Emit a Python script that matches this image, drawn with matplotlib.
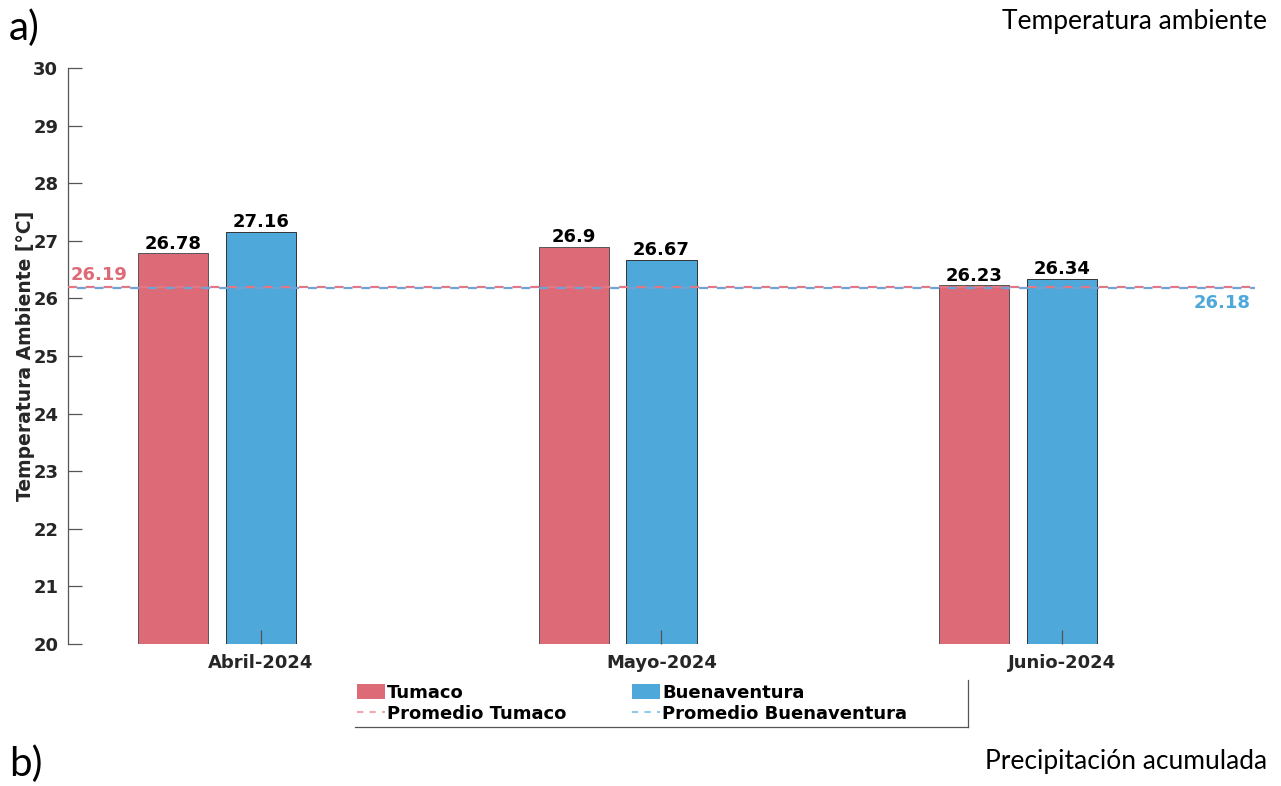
import matplotlib
matplotlib.use("Agg")
import matplotlib.pyplot as plt
from matplotlib.patches import Patch
from matplotlib.lines import Line2D
import numpy as np

plt.rcParams["font.family"] = ["DejaVu Sans"]

# Monthly mean ambient temperature (°C)
months = ["Abril-2024", "Mayo-2024", "Junio-2024"]
tumaco = [26.78, 26.9, 26.23]
buenaventura = [27.16, 26.67, 26.34]
mean_tumaco = 26.19
mean_buenaventura = 26.18
y_ticks = [20, 21, 22, 23, 24, 25, 26, 27, 28, 29, 30]

c_tum = "#DD6B77"
c_bue = "#4EA8DA"
c_tum_mean = "#E07885"
c_bue_mean = "#6FA3D8"
c_tum_leg = "#F2A7B0"
c_bue_leg = "#8CCBEB"
txt = "#262626"

fig = plt.figure(figsize=(12.81, 7.86), dpi=100)
ax = fig.add_axes([68 / 1281, 1 - 644 / 786, (1255 - 68) / 1281, (644 - 68) / 786])

x = np.arange(1, len(months) + 1)
w = 0.175
off = 0.219
b1 = ax.bar(x - off, tumaco, width=w, color=c_tum, edgecolor="#555555",
            linewidth=0.7, zorder=2)
b2 = ax.bar(x, buenaventura, width=w, color=c_bue, edgecolor="#333333",
            linewidth=0.7, zorder=2)

for bars, vals in ((b1, tumaco), (b2, buenaventura)):
    for r, v in zip(bars, vals):
        ax.text(r.get_x() + r.get_width() / 2, v + 0.01, f"{v:g}",
                ha="center", va="bottom", fontsize=13, fontweight="bold",
                color="black", zorder=5)

# Period averages
ax.axhline(mean_tumaco, color=c_tum_mean, ls=(0, (4, 4)), lw=1.6, zorder=3)
ax.axhline(mean_buenaventura, color=c_bue_mean, ls=(4, (4, 4)), lw=1.6, zorder=3)
ax.text(0.525, mean_tumaco + 0.06, f"{mean_tumaco:g}", color=c_tum,
        fontsize=13, fontweight="bold", ha="left", va="bottom")
ax.text(3.47, mean_buenaventura - 0.1, f"{mean_buenaventura:g}", color=c_bue,
        fontsize=13, fontweight="bold", ha="right", va="top")

ax.set_xlim(0.518, 3.482)
ax.set_ylim(20, 30)
ax.set_yticks(y_ticks)
ax.set_xticks(x)
ax.set_xticklabels(months)
ax.tick_params(axis="both", direction="in", length=10, width=0.9,
               color="#555555", labelsize=13, labelcolor=txt, pad=7)
for lab in ax.get_xticklabels() + ax.get_yticklabels():
    lab.set_fontweight("bold")
ax.set_axisbelow(False)
for s in ("top", "right", "bottom"):
    ax.spines[s].set_visible(False)
ax.spines["left"].set_color("#555555")
ax.spines["left"].set_linewidth(0.9)
ax.set_ylabel("Temperatura Ambiente [°C]", fontsize=13.5, fontweight="bold",
              color=txt, labelpad=-1.3)

handles = [
    Patch(facecolor=c_tum, edgecolor="none"),
    Line2D([], [], color=c_tum_leg, ls=(0, (3, 3)), lw=1.5),
    Patch(facecolor=c_bue, edgecolor="none"),
    Line2D([], [], color=c_bue_leg, ls=(0, (3, 3)), lw=1.5),
]
labels = ["Tumaco", "Promedio Tumaco", "Buenaventura", "Promedio Buenaventura"]
leg = fig.legend(handles, labels, ncol=2, loc="upper left",
                 bbox_to_anchor=(353 / 1281, 1 - 680 / 786), frameon=False,
                 prop={"weight": "bold", "size": 13}, handlelength=1.55,
                 handleheight=0.95, handletextpad=0.15, columnspacing=3.6,
                 labelspacing=0.2, borderpad=0.2, borderaxespad=0)

# Legend box edges
fig.add_artist(Line2D([968 / 1281, 968 / 1281], [1 - 680 / 786, 1 - 727 / 786],
                      transform=fig.transFigure, color="#555555", lw=0.9))
fig.add_artist(Line2D([355 / 1281, 968 / 1281], [1 - 727 / 786, 1 - 727 / 786],
                      transform=fig.transFigure, color="#555555", lw=0.9))

title_font = ["Lato", "DejaVu Sans"]
fig.text(9 / 1281, 1 - 28 / 786, "a)", fontsize=29, family=title_font,
         ha="left", va="center", color="black")
fig.text(1267 / 1281, 1 - 22 / 786, "Temperatura ambiente", fontsize=19,
         family=title_font, ha="right", va="center", color="black")
fig.text(9 / 1281, 1 - 764 / 786, "b)", fontsize=29, family=title_font,
         ha="left", va="center", color="black")
fig.text(1267 / 1281, 1 - 762 / 786, "Precipitación acumulada", fontsize=19,
         family=title_font, ha="right", va="center", color="black")

fig.savefig("out.png", dpi=100)
